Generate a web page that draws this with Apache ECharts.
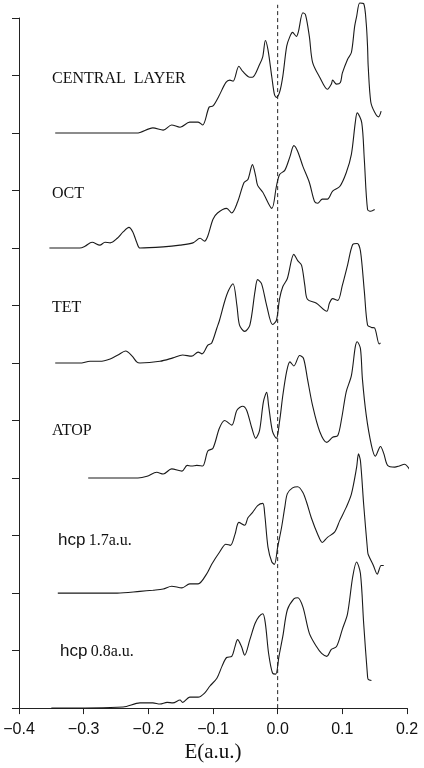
<!DOCTYPE html>
<html>
<head>
<meta charset="utf-8">
<script src="https://cdn.jsdelivr.net/npm/echarts@6/dist/echarts.min.js"></script>
<style>
html,body{margin:0;padding:0;background:#fff;}
#chart{width:424px;height:768px;}
</style>
</head>
<body>
<div id="chart"></div>
<script>
// Energy (a.u.) vs relative intensity (curve baseline = 0)
const centralLayer = [[-0.344,0],[-0.218,0],[-0.193,0.09],[-0.177,0.05],[-0.164,0.14],[-0.151,0.10],[-0.136,0.19],[-0.123,0.19],[-0.116,0.14],[-0.106,0.45],[-0.100,0.47],[-0.091,0.64],[-0.080,0.88],[-0.074,0.92],[-0.069,0.90],[-0.060,1.16],[-0.054,1.07],[-0.043,0.97],[-0.039,0.97],[-0.028,1.19],[-0.023,1.33],[-0.019,1.61],[-0.015,1.45],[-0.009,0.97],[-0.005,0.67],[-0.002,0.62],[0.003,0.71],[0.008,0.99],[0.014,1.51],[0.019,1.68],[0.023,1.75],[0.029,1.68],[0.032,1.76],[0.039,2.09],[0.043,2.06],[0.049,1.68],[0.054,1.23],[0.065,0.97],[0.077,0.76],[0.083,0.85],[0.085,0.92],[0.091,0.85],[0.097,0.88],[0.100,1.04],[0.108,1.28],[0.114,1.40],[0.119,1.85],[0.122,2.02],[0.127,2.26],[0.133,2.25],[0.137,1.90],[0.139,1.50],[0.140,1.16],[0.144,0.54],[0.150,0.36],[0.156,0.28],[0.160,0.38]];
const octSite = [[-0.353,0],[-0.306,0],[-0.298,0.03],[-0.287,0.10],[-0.275,0.05],[-0.267,0.10],[-0.259,0.09],[-0.248,0.17],[-0.239,0.28],[-0.230,0.36],[-0.224,0.28],[-0.218,0.10],[-0.213,0],[-0.177,0.02],[-0.151,0.05],[-0.131,0.09],[-0.120,0.17],[-0.113,0.12],[-0.108,0.21],[-0.100,0.50],[-0.093,0.61],[-0.079,0.69],[-0.071,0.61],[-0.062,0.80],[-0.052,1.14],[-0.046,1.19],[-0.039,1.45],[-0.034,1.25],[-0.031,1.09],[-0.023,0.97],[-0.009,0.69],[-0.002,1.07],[0.003,1.28],[0.011,1.35],[0.019,1.59],[0.025,1.78],[0.031,1.68],[0.039,1.42],[0.049,1.14],[0.057,0.81],[0.062,0.78],[0.069,0.85],[0.077,0.85],[0.085,0.99],[0.096,1.07],[0.106,1.31],[0.114,1.63],[0.120,2.18],[0.123,2.35],[0.130,2.18],[0.134,1.54],[0.139,0.67],[0.144,0.64],[0.150,0.67]];
const tetSite = [[-0.344,0],[-0.306,0],[-0.290,0.03],[-0.275,0.03],[-0.259,0.07],[-0.247,0.14],[-0.235,0.21],[-0.225,0.12],[-0.218,0.02],[-0.213,0],[-0.182,0.03],[-0.162,0.09],[-0.147,0.14],[-0.133,0.12],[-0.123,0.19],[-0.117,0.16],[-0.108,0.31],[-0.102,0.35],[-0.094,0.61],[-0.090,0.74],[-0.082,1.07],[-0.076,1.26],[-0.069,1.38],[-0.063,1.00],[-0.059,0.66],[-0.051,0.55],[-0.043,0.66],[-0.035,1.25],[-0.031,1.45],[-0.025,1.38],[-0.017,1.00],[-0.008,0.67],[-0.002,0.74],[0.003,1.12],[0.008,1.33],[0.015,1.47],[0.025,1.89],[0.031,1.78],[0.037,1.70],[0.042,1.35],[0.046,1.11],[0.060,1.04],[0.076,0.90],[0.080,1.04],[0.085,1.12],[0.093,1.09],[0.100,1.35],[0.108,1.70],[0.116,2.06],[0.123,2.08],[0.128,1.95],[0.134,1.25],[0.139,0.66],[0.145,0.62],[0.150,0.61],[0.157,0.33],[0.159,0.35]];
const atopSite = [[-0.293,0],[-0.216,0],[-0.202,0.03],[-0.187,0.10],[-0.177,0.07],[-0.164,0.16],[-0.148,0.12],[-0.140,0.22],[-0.133,0.21],[-0.125,0.22],[-0.116,0.21],[-0.108,0.47],[-0.100,0.52],[-0.090,0.87],[-0.082,1.00],[-0.071,0.92],[-0.063,1.18],[-0.054,1.25],[-0.048,1.18],[-0.040,0.87],[-0.034,0.69],[-0.028,0.83],[-0.022,1.33],[-0.017,1.49],[-0.014,1.26],[-0.008,0.81],[-0.002,0.69],[0.003,0.99],[0.008,1.44],[0.014,1.86],[0.019,2.02],[0.025,1.95],[0.034,2.13],[0.040,2.08],[0.046,1.73],[0.054,1.26],[0.065,0.81],[0.076,0.62],[0.085,0.71],[0.093,0.74],[0.099,1.04],[0.106,1.50],[0.114,1.78],[0.120,2.28],[0.123,2.37],[0.128,2.25],[0.131,1.73],[0.137,1.09],[0.145,0.57],[0.151,0.38],[0.159,0.55],[0.164,0.43],[0.170,0.22],[0.181,0.19],[0.188,0.21],[0.196,0.24],[0.208,0.07]];
const hcp17 = [[-0.340,0],[-0.248,0],[-0.213,0.03],[-0.193,0.05],[-0.177,0.07],[-0.164,0.12],[-0.148,0.09],[-0.136,0.16],[-0.123,0.16],[-0.110,0.33],[-0.102,0.50],[-0.090,0.71],[-0.080,0.85],[-0.073,0.83],[-0.066,1.02],[-0.060,1.23],[-0.051,1.18],[-0.046,1.31],[-0.039,1.40],[-0.031,1.52],[-0.023,1.56],[-0.020,1.37],[-0.015,0.80],[-0.009,0.54],[-0.005,0.50],[0.000,0.80],[0.006,1.14],[0.011,1.49],[0.015,1.73],[0.023,1.83],[0.031,1.85],[0.039,1.75],[0.045,1.57],[0.052,1.31],[0.062,1.02],[0.069,0.88],[0.077,0.97],[0.088,1.06],[0.096,1.26],[0.106,1.49],[0.114,1.72],[0.122,2.18],[0.125,2.42],[0.128,2.30],[0.133,1.54],[0.139,0.74],[0.140,0.67],[0.148,0.48],[0.154,0.33],[0.160,0.48],[0.164,0.48]];
const hcp08 = [[-0.350,0],[-0.239,0.02],[-0.213,0.09],[-0.193,0.09],[-0.182,0.07],[-0.171,0.10],[-0.162,0.09],[-0.151,0.14],[-0.147,0.10],[-0.136,0.19],[-0.123,0.19],[-0.113,0.26],[-0.105,0.38],[-0.094,0.52],[-0.086,0.73],[-0.079,0.88],[-0.071,0.90],[-0.066,1.07],[-0.062,1.19],[-0.056,1.07],[-0.051,0.92],[-0.043,1.19],[-0.035,1.47],[-0.029,1.59],[-0.023,1.64],[-0.019,1.47],[-0.014,0.95],[-0.008,0.61],[-0.003,0.59],[0.002,0.90],[0.008,1.25],[0.015,1.71],[0.025,1.90],[0.031,1.92],[0.039,1.76],[0.049,1.30],[0.060,1.07],[0.068,0.95],[0.076,0.90],[0.083,1.02],[0.091,1.07],[0.100,1.37],[0.108,1.64],[0.116,2.28],[0.122,2.54],[0.128,2.34],[0.133,1.47],[0.139,0.55],[0.140,0.50],[0.145,0.48]];

const curveNames = ['CENTRAL LAYER','OCT','TET','ATOP','hcp 1.7a.u.','hcp 0.8a.u.'];
const curveData = [centralLayer, octSite, tetSite, atopSite, hcp17, hcp08];
const curveOffsets = [10, 8, 6, 4, 2, 0];
const fermiLine = [[0, 0], [0, 12.23]];

const chart = echarts.init(document.getElementById('chart'));
const lineColor = '#1a1a1a';
const series = curveData.map((d, i) => ({
  name: curveNames[i],
  type: 'line',
  data: d.map(p => [p[0], p[1] + curveOffsets[i]]),
  symbol: 'none',
  smooth: 0.3,
  clip: false,
  lineStyle: { color: lineColor, width: 1.1 },
  z: 3
}));
series.push({
  type: 'line',
  data: fermiLine,
  symbol: 'none',
  clip: false,
  lineStyle: { color: '#222', width: 1, type: [4, 3] },
  z: 2
});

const serif = '"Liberation Serif", "DejaVu Serif", serif';
const sans = '"Liberation Sans", Arial, sans-serif';
function label(text, x, y) {
  return { type: 'text', left: x, top: y, style: { text: text, font: '16px ' + serif, fill: '#111' } };
}
function hcpLabel(num, x, y) {
  return {
    type: 'text', left: x, top: y,
    style: {
      text: '{a|hcp} {b|' + num + '}',
      rich: {
        a: { fontFamily: sans, fontSize: 17, fill: '#111' },
        b: { fontFamily: serif, fontSize: 16, fill: '#111' }
      }
    }
  };
}

chart.setOption({
  animation: false,
  backgroundColor: '#fff',
  grid: { left: 19, right: 17, top: 18, bottom: 56 },
  xAxis: {
    type: 'value', min: -0.4, max: 0.2, interval: 0.1,
    axisLine: { onZero: false, lineStyle: { color: '#222', width: 1 } },
    axisTick: { show: true, inside: false, length: 6, lineStyle: { color: '#222' } },
    splitLine: { show: false },
    axisLabel: {
      margin: 13, color: '#111', fontSize: 16, fontFamily: sans,
      formatter: v => (Math.abs(v) < 1e-9 ? '0.0' : v.toFixed(1).replace('-', '\u2212'))
    },
    name: 'E(a.u.)', nameLocation: 'middle', nameGap: 33,
    nameTextStyle: { fontFamily: serif, fontSize: 21, color: '#111' }
  },
  yAxis: {
    type: 'value', min: 0, max: 12, interval: 1,
    axisLine: { show: true, onZero: false, lineStyle: { color: '#222', width: 1 } },
    axisTick: { show: true, inside: false, length: 7, lineStyle: { color: '#222' } },
    axisLabel: { show: false },
    splitLine: { show: false }
  },
  series: series,
  graphic: [
    label('CENTRAL  LAYER', 52, 71),
    label('OCT', 52, 186),
    label('TET', 52, 300),
    label('ATOP', 52, 423),
    hcpLabel('1.7a.u.', 58, 532),
    hcpLabel('0.8a.u.', 60, 643)
  ]
});
</script>
</body>
</html>
